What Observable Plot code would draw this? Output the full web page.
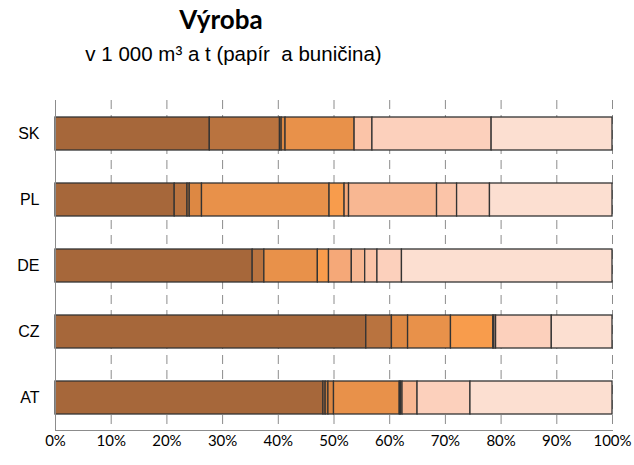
<!DOCTYPE html>
<html><head><meta charset="utf-8">
<script src="https://cdn.jsdelivr.net/npm/d3@7"></script>
<script src="https://cdn.jsdelivr.net/npm/@observablehq/plot@0.6"></script>
<style>
body{margin:0;background:#fff;}
#wrap{position:relative;width:634px;height:465px;}
#title{position:absolute;left:0;top:3px;width:442px;text-align:center;font:bold 26px Lato, "Open Sans", sans-serif;color:#000;}
#sub{position:absolute;left:0;top:42px;width:467px;text-align:center;font:20.5px "Liberation Sans", Arial, sans-serif;color:#000;}
#chart{position:absolute;left:0;top:75px;}
</style></head>
<body><div id="wrap"><div id="title">Výroba</div><div id="sub">v 1 000 m³ a t (papír&nbsp; a buničina)</div><div id="chart"></div></div>
<script>
const countries = ["SK","PL","DE","CZ","AT"];
const categories = ["k1","k2","k3","k4","k5","k6","k7","k8","k9","k10","k11"];
const colors = ["#A6673A","#B9733F","#C97C3E","#DD8843","#E8914A","#F89C4C","#F5A878","#F8B792","#FBC4A8","#FCD0BC","#FCDFD1"];
// share (%) per category, in country order SK, PL, DE, CZ, AT
const k1  = [27.7, 21.4, 35.4, 55.8, 48.1];
const k2  = [12.6,  2.3,  2.1,  4.6,  0.4];
const k3  = [ 0.3,  0.4,  0,    0,    0.5];
const k4  = [ 0.7,  2.2,  0,    2.9,  1.0];
const k5  = [12.4, 22.9,  9.6,  7.7, 11.8];
const k6  = [ 0,    2.7,  2.0,  7.6,  0.2];
const k7  = [ 0,    0.8,  4.1,  0,    0.3];
const k8  = [ 0,   15.8,  2.4,  0.2,  2.7];
const k9  = [ 3.2,  3.6,  2.2,  0.3,  0];
const k10 = [21.4,  5.9,  4.4, 10.0,  9.5];
const k11 = [21.7, 22.0, 37.8, 10.9, 25.5];
const xTicks = [0,10,20,30,40,50,60,70,80,90,100];

const series = [k1,k2,k3,k4,k5,k6,k7,k8,k9,k10,k11];
const rows = [];
categories.forEach((c,i)=>countries.forEach((cn,j)=>{ if(series[i][j]>0) rows.push({country:cn, cat:c, value:series[i][j]}); }));

const chart = Plot.plot({
  width:634, height:390,
  marginLeft:55, marginRight:22, marginTop:25, marginBottom:35,
  x:{domain:[0,100]},
  y:{domain:countries, paddingInner:0.5, paddingOuter:0.25},
  color:{domain:categories, range:colors},
  style:{fontFamily:"Lato, 'Open Sans', sans-serif", color:"#000"},
  marks:[
    Plot.gridX(xTicks.slice(1), {stroke:"#8c8c8c", strokeOpacity:1, strokeDasharray:"9,6", strokeWidth:1}),
    Plot.barX(rows, {x:"value", y:"country", fill:"cat", stroke:"#333", strokeWidth:1.3, order:categories}),
    Plot.axisX(xTicks, {tickFormat:d=>d+"%", fontSize:15, tickSize:0, tickPadding:5, label:null}),
    Plot.frame({anchor:"bottom", stroke:"#8c8c8c"}),
    Plot.ruleX([0], {stroke:"#8c8c8c"}),
    Plot.axisY({fontSize:16, tickSize:0, tickPadding:16, label:null, fontFamily:"'Liberation Sans', Arial, sans-serif"})
  ]
});
document.getElementById("chart").appendChild(chart);
</script></body></html>
